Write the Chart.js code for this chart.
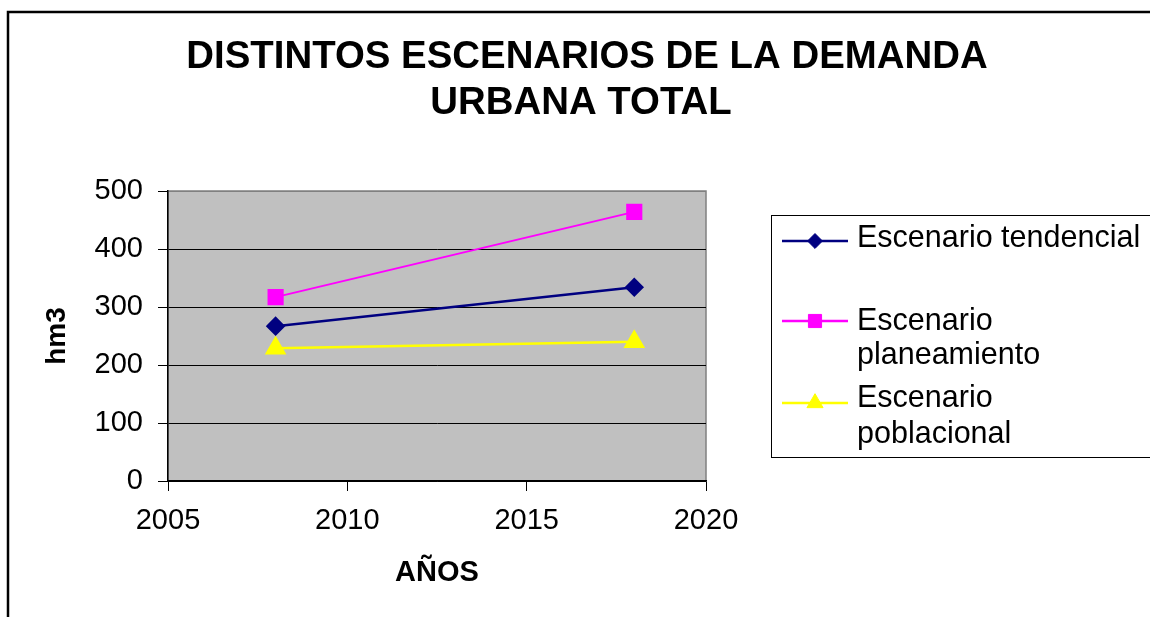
<!DOCTYPE html>
<html>
<head>
<meta charset="utf-8">
<script src="https://cdn.jsdelivr.net/npm/chart.js@4.4.1/dist/chart.umd.min.js"></script>
<style>
  html, body { margin: 0; padding: 0; background: #fff; overflow: hidden; }
  canvas { display: block; }
</style>
</head>
<body>
<canvas id="chart" width="1150" height="617"></canvas>
<script>
const years = [2008, 2018];
const tendencial = [267, 334];
const planeamiento = [317, 464];
const poblacional = [229, 240];

const xTicks = [2005, 2010, 2015, 2020];
const yTicks = [0, 100, 200, 300, 400, 500];

const titleLines = ["DISTINTOS ESCENARIOS DE LA DEMANDA", "URBANA TOTAL"];
const seriesNames = ["Escenario tendencial", "Escenario planeamiento", "Escenario poblacional"];
const legendLines = [["Escenario tendencial"], ["Escenario", "planeamiento"], ["Escenario", "poblacional"]];

const family = "'Liberation Sans', Arial, sans-serif";

const toPoints = (values) => years.map((x, i) => ({ x, y: values[i] }));

// frame, grey plot area, title and the legend box are drawn by hand
const decor = {
  id: "decor",
  beforeDraw(chart) {
    const { ctx, chartArea: a } = chart;
    ctx.save();
    ctx.fillStyle = "#fff";
    ctx.fillRect(0, 0, chart.width, chart.height);
    ctx.strokeStyle = "#000";
    ctx.lineWidth = 2.5;
    ctx.strokeRect(8, 12, chart.width + 40, chart.height + 40);

    ctx.fillStyle = "#c0c0c0";
    ctx.fillRect(a.left, a.top, a.right - a.left, a.bottom - a.top);
    ctx.strokeStyle = "#808080";
    ctx.lineWidth = 1.5;
    ctx.strokeRect(a.left, a.top, a.right - a.left, a.bottom - a.top);

    ctx.fillStyle = "#000";
    ctx.font = `bold 38.4px ${family}`;
    ctx.textAlign = "center";
    ctx.textBaseline = "middle";
    ctx.fillText(titleLines[0], 587, 57);
    ctx.fillText(titleLines[1], 581, 103);
    ctx.restore();
  },
  afterDraw(chart) {
    const { ctx } = chart;
    ctx.save();
    ctx.strokeStyle = "#000";
    ctx.lineWidth = 1;
    ctx.strokeRect(771.5, 215.5, 500, 242);

    const sampleY = [241, 321, 403];
    const textY = [[247], [330, 364], [407, 443]];
    chart.data.datasets.forEach((ds, i) => {
      ctx.strokeStyle = ds.borderColor;
      ctx.fillStyle = ds.backgroundColor;
      ctx.lineWidth = 2.5;
      ctx.beginPath();
      ctx.moveTo(782, sampleY[i]);
      ctx.lineTo(848, sampleY[i]);
      ctx.stroke();
      ctx.lineWidth = 1;
      Chart.helpers.drawPoint(ctx, {
        pointStyle: ds.pointStyle,
        radius: ds.pointRadius * 0.93,
        rotation: 0,
        borderWidth: 1,
      }, 815, sampleY[i]);

      ctx.fillStyle = "#000";
      ctx.font = `30.5px ${family}`;
      ctx.textAlign = "left";
      ctx.textBaseline = "alphabetic";
      legendLines[i].forEach((line, j) => ctx.fillText(line, 857, textY[i][j]));
    });
    ctx.restore();
  },
};

new Chart(document.getElementById("chart"), {
  type: "line",
  data: {
    datasets: [
      {
        label: seriesNames[0],
        data: toPoints(tendencial),
        borderColor: "#000080",
        backgroundColor: "#000080",
        borderWidth: 2.5,
        pointStyle: "rectRot",
        pointRadius: 8,
      },
      {
        label: seriesNames[1],
        data: toPoints(planeamiento),
        borderColor: "#ff00ff",
        backgroundColor: "#ff00ff",
        borderWidth: 2,
        pointStyle: "rect",
        pointRadius: 10,
      },
      {
        label: seriesNames[2],
        data: toPoints(poblacional),
        borderColor: "#ffff00",
        backgroundColor: "#ffff00",
        borderWidth: 2.5,
        pointStyle: "triangle",
        pointRadius: 10,
      },
    ],
  },
  options: {
    responsive: false,
    animation: false,
    layout: { padding: { top: 191, right: 444, bottom: 0, left: 0 } },
    plugins: {
      legend: { display: false },
      title: { display: false },
      tooltip: { enabled: false },
    },
    scales: {
      x: {
        type: "linear",
        min: xTicks[0],
        max: xTicks[xTicks.length - 1],
        afterBuildTicks: (s) => { s.ticks = xTicks.map((v) => ({ value: v })); },
        afterFit: (s) => { s.height = 136; },
        grid: { drawOnChartArea: false, tickLength: 10, tickColor: "#000", color: "#000" },
        border: { color: "#000", width: 1.5 },
        ticks: {
          color: "#000",
          font: { size: 29, family },
          padding: 13,
          maxRotation: 0,
          callback: (v) => String(v),
        },
        title: {
          display: true,
          text: "AÑOS",
          color: "#000",
          font: { size: 29, weight: "bold", family },
          padding: { top: 0, bottom: 27 },
        },
      },
      y: {
        min: yTicks[0],
        max: yTicks[yTicks.length - 1],
        afterBuildTicks: (s) => { s.ticks = yTicks.map((v) => ({ value: v })); },
        afterFit: (s) => { s.width = 168; },
        grid: {
          color: (c) => (c.tick && c.tick.value === 500 ? "#808080" : "#000"),
          tickColor: "#000",
          tickLength: 10,
          lineWidth: 1,
        },
        border: { color: "#000", width: 1.5 },
        ticks: { color: "#000", font: { size: 29, family }, padding: 15 },
        title: {
          display: true,
          text: "hm3",
          color: "#000",
          font: { size: 28, weight: "bold", family },
          padding: { top: 40, bottom: 0 },
        },
      },
    },
  },
  plugins: [decor],
});
</script>
</body>
</html>
